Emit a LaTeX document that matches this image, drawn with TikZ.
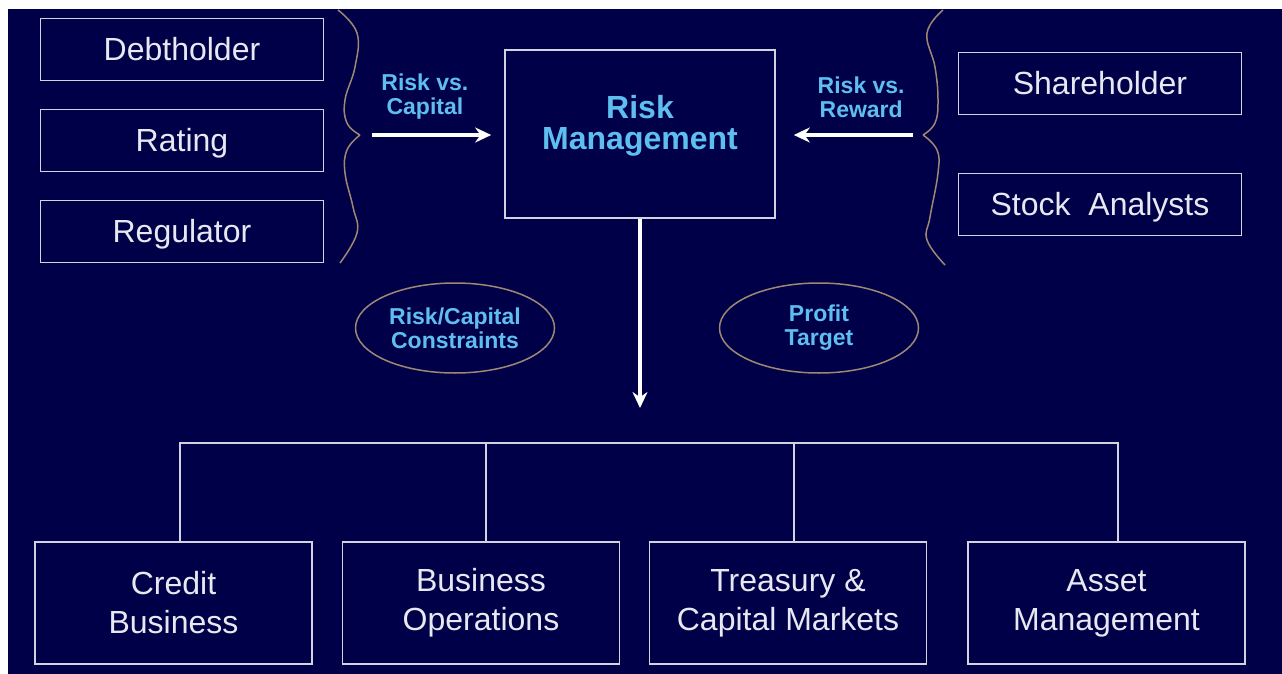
\documentclass[tikz,border=0pt]{standalone}
\usepackage{fontspec}
\setmainfont{Liberation Sans}
\usetikzlibrary{matrix, positioning, shapes.geometric, arrows.meta}
\definecolor{navy}{RGB}{0,0,72}
\definecolor{sky}{RGB}{95,190,240}
\definecolor{rope}{RGB}{160,135,115}
\definecolor{rim}{RGB}{210,210,225}
\definecolor{ink}{RGB}{232,232,242}
\newcommand{\rvs}{Risk vs.}

\begin{document}
\begin{tikzpicture}[x=1pt, y=-1pt,
  party/.style={draw=rim, line width=1.6pt, anchor=center,
    minimum width=283pt, minimum height=62pt, text=ink,
    text height=24pt, text depth=2pt, font=\fontsize{32}{38}\selectfont},
  unit/.style={draw=rim, line width=1.6pt, anchor=center,
    minimum width=277pt, minimum height=122pt, text=ink,
    align=center, font=\fontsize{32}{39}\selectfont},
  tag/.style={text=sky, align=center, inner sep=0pt,
    font=\bfseries\fontsize{23}{24}\selectfont},
  goal/.style={tag, ellipse, draw=rope, line width=1.5pt,
    minimum width=199pt, minimum height=90pt},
  brace/.style={draw=rope, line width=1.5pt},
  flow/.style={draw=white, line width=3.5pt,
    -{Stealth[length=16pt, width=15pt]}},
  link/.style={draw=rim, line width=1.6pt, line cap=rect}]

  \fill[white] (0,0) rectangle (1282,674);
  \fill[navy] (8,9) rectangle (1282,674);

  \matrix (lenders) at (182,140.5)
    [matrix of nodes,
     nodes={party},
     row sep={91pt,between origins}]
  {
    Debtholder \\
    Rating \\
    Regulator \\
  };
  \matrix (owners) at (1100,144)
    [matrix of nodes,
     nodes={party},
     row sep={121pt,between origins}]
  {
    Shareholder \\
    Stock\ \ Analysts \\
  };

  \node[draw=rim, line width=1.6pt, minimum width=270pt, minimum height=168pt,
    label={[tag, font=\bfseries\fontsize{32}{31}\selectfont, yshift=8pt]center:Risk\\Management}]
    (risk) at (640,134) {};

  \node[goal] (limits) at (455,328) {Risk/Capital\\Constraints};
  \node[goal] (target) at (819,328) {Profit\\Target};

  \draw[brace] plot[smooth, tension=0.7] coordinates
    {(338,10) (357,33) (355,67) (345,100) (347,123) (360,135)};
  \draw[brace] plot[smooth, tension=0.7] coordinates
    {(360,135) (347,150) (345,173) (353,207) (357,233) (340,263)};
  \draw[brace] plot[smooth, tension=0.7] coordinates
    {(943,10) (927,33) (935,67) (938,100) (935,123) (923,135)};
  \draw[brace] plot[smooth, tension=0.7] coordinates
    {(923,135) (937,150) (938,173) (930,217) (927,240) (945,265)};
  \coordinate (ltip) at (360,135);
  \coordinate (rtip) at (923,135);

  \draw[flow, shorten <=12pt, shorten >=13pt] (ltip) -- (ltip -| risk.west)
    node[tag, pos=0.45, above=14pt] {\rvs\\Capital};
  \draw[flow, shorten <=10pt, shorten >=18pt] (rtip) -- (rtip -| risk.east)
    node[tag, pos=0.42, above=16pt] {\rvs\\Reward};

  \coordinate (drop) at (640,408);
  \draw[flow] (risk.south) -- (drop);

  \foreach \x/\u/\txt in {173.5/credit/{Credit\\Business},
                          481/busops/{Business\\Operations},
                          788/treasury/{Treasury \&\\Capital Markets},
                          1106.5/asset/{Asset\\Management}}{
    \node[unit] (\u) at (\x,603) {\txt};
  };

  \coordinate (bus) at (640,443);
  \foreach \u/\dx in {credit/6.5, busops/5, treasury/6, asset/11.5}{
    \coordinate (foot-\u) at ([xshift=\dx pt]\u.north);
    \draw[link] (foot-\u) -- (foot-\u |- bus);
  };
  \draw[link] (foot-credit |- bus) -- (foot-asset |- bus);

\end{tikzpicture}
\end{document}
